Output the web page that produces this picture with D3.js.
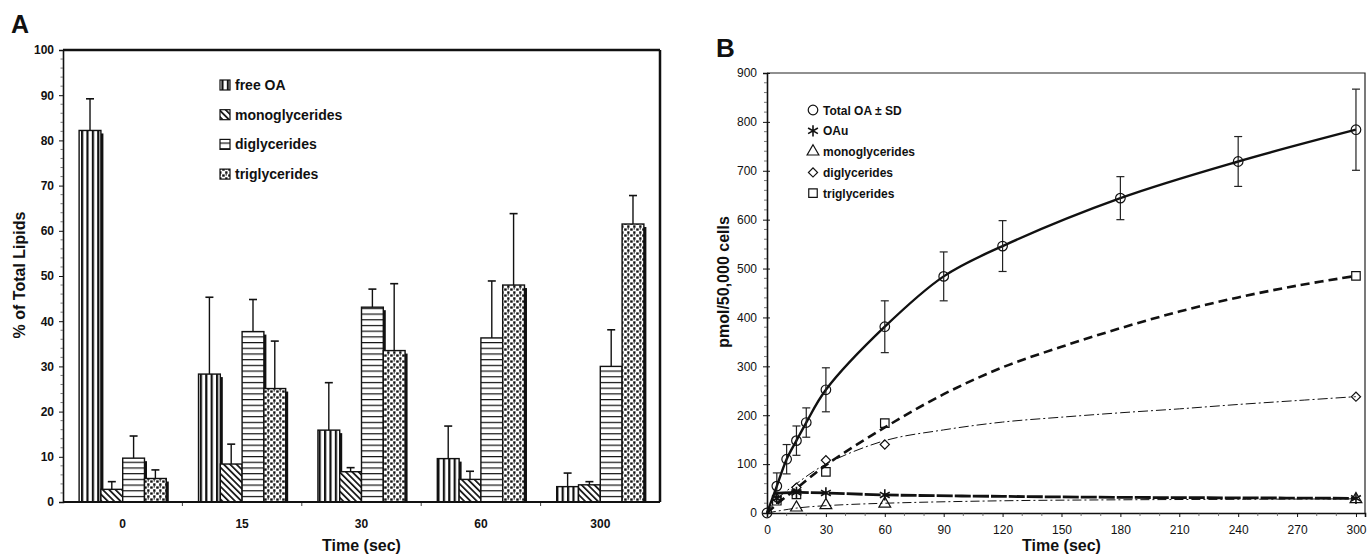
<!DOCTYPE html>
<html><head><meta charset="utf-8">
<script src="https://cdn.jsdelivr.net/npm/d3@7"></script>
<style>
body{margin:0;background:#fff}
svg{display:block}
text{font-family:"Liberation Sans",Arial,sans-serif;fill:#111}
</style>
</head><body>
<svg id="c" width="1367" height="558"></svg>
<script>
// ---------- Panel A data ----------
const timesA = ["0", "15", "30", "60", "300"];
const seriesA = ["free OA", "monoglycerides", "diglycerides", "triglycerides"];
const freeOA = [82.2, 28.3, 15.9, 9.6, 3.4];
const freeOASD = [7.0, 17.0, 10.5, 7.2, 3.0];
const monoA = [2.8, 8.4, 6.7, 5.0, 3.8];
const monoASD = [1.7, 4.4, 0.9, 1.8, 0.7];
const diA = [9.7, 37.7, 43.1, 36.3, 30.0];
const diASD = [4.9, 7.1, 4.0, 12.6, 8.1];
const triA = [5.2, 25.1, 33.5, 48.0, 61.5];
const triASD = [1.9, 10.5, 14.8, 15.8, 6.3];
const yTicksA = [0, 10, 20, 30, 40, 50, 60, 70, 80, 90, 100];

// ---------- Panel B data ----------
const totalT = [0, 5, 10, 15, 20, 30, 60, 90, 120, 180, 240, 300];
const totalV = [0, 55, 110, 148, 185, 252, 381, 484, 546, 644, 719, 784];
const totalSD = [0, 27, 30, 30, 30, 45, 53, 50, 52, 44, 51, 83];
const oauT = [5, 15, 30, 60, 300];
const oauV = [30, 42, 41, 37, 30];
const oauFitT = [4, 15, 30, 60, 120, 180, 240, 300];
const oauFitV = [40, 42, 41, 37, 34, 32, 31, 30];
const monoT = [15, 30, 60, 300];
const monoV = [11, 16, 19, 28];
const monoFitT = [0, 15, 30, 60, 120, 180, 240, 300];
const monoFitV = [0, 10, 15, 20, 25, 27, 28, 29];
const diT = [5, 15, 30, 60, 300];
const diV = [30, 52, 108, 140, 238];
const diFitT = [0, 5, 15, 30, 60, 90, 120, 150, 180, 210, 240, 270, 300];
const diFitV = [0, 28, 60, 100, 148, 170, 186, 196, 205, 213, 222, 230, 238];
const triT = [5, 15, 30, 60, 300];
const triV = [25, 38, 84, 184, 485];
const triFitT = [0, 5, 15, 30, 60, 90, 120, 150, 180, 210, 240, 270, 300];
const triFitV = [0, 18, 50, 98, 175, 243, 298, 340, 378, 412, 441, 465, 485];
const xTicksB = [0, 30, 60, 90, 120, 150, 180, 210, 240, 270, 300];
const yTicksB = [0, 100, 200, 300, 400, 500, 600, 700, 800, 900];
const legendB = ["Total OA \u00b1 SD", "OAu", "monoglycerides", "diglycerides", "triglycerides"];

const svg = d3.select("#c");
const defs = svg.append("defs");

// patterns
const pV = defs.append("pattern").attr("id", "pV").attr("patternUnits", "userSpaceOnUse")
  .attr("width", 5.4).attr("height", 10);
pV.append("rect").attr("width", 5.4).attr("height", 10).attr("fill", "#fff");
pV.append("rect").attr("x", 0).attr("width", 2.2).attr("height", 10).attr("fill", "#111");

const pD = defs.append("pattern").attr("id", "pD").attr("patternUnits", "userSpaceOnUse")
  .attr("width", 4.5).attr("height", 4.5).attr("patternTransform", "rotate(-45)");
pD.append("rect").attr("width", 4.5).attr("height", 4.5).attr("fill", "#fff");
pD.append("rect").attr("x", 0).attr("width", 1.7).attr("height", 4.5).attr("fill", "#111");

const pH = defs.append("pattern").attr("id", "pH").attr("patternUnits", "userSpaceOnUse")
  .attr("width", 10).attr("height", 5.7);
pH.append("rect").attr("width", 10).attr("height", 5.7).attr("fill", "#fff");
pH.append("rect").attr("y", 0).attr("width", 10).attr("height", 1.2).attr("fill", "#111");

const pT = defs.append("pattern").attr("id", "pT").attr("patternUnits", "userSpaceOnUse")
  .attr("width", 6).attr("height", 6);
pT.append("rect").attr("width", 6).attr("height", 6).attr("fill", "#fff");
pT.append("rect").attr("x", 0.2).attr("y", 0.4).attr("width", 2.5).attr("height", 2.3).attr("fill", "#111");
pT.append("rect").attr("x", 3.2).attr("y", 3.3).attr("width", 2.3).attr("height", 2.5).attr("fill", "#111");
pT.append("rect").attr("x", 3.6).attr("y", 0.2).attr("width", 1.3).attr("height", 1.3).attr("fill", "#222");

const fills = ["url(#pV)", "url(#pD)", "url(#pH)", "url(#pT)"];

// ================= Panel A =================
const A = {l: 63, r: 660, t: 50, b: 502};
const yA = d3.scaleLinear().domain([0, 100]).range([A.b, A.t]);
const xA = d3.scaleBand().domain(timesA).range([A.l, A.r]).paddingInner(0.27).paddingOuter(0.135);
const xAs = d3.scaleBand().domain(seriesA).range([0, xA.bandwidth()]);
const valsA = [freeOA, monoA, diA, triA];
const sdA = [freeOASD, monoASD, diASD, triASD];

svg.append("text").attr("x", 11).attr("y", 33).attr("font-size", 25).attr("font-weight", "bold").text("A");

const gA = svg.append("g");
gA.append("line").attr("x1", A.l).attr("x2", A.r).attr("y1", A.t).attr("y2", A.t).attr("stroke", "#111").attr("stroke-width", 2.5);
gA.append("line").attr("x1", A.r).attr("x2", A.r).attr("y1", A.t).attr("y2", A.b).attr("stroke", "#111").attr("stroke-width", 2.5);

const axA = d3.axisLeft(yA).tickValues(yTicksA).tickSize(4).tickPadding(5);
const gyA = svg.append("g").attr("transform", `translate(${A.l},0)`).call(axA);
gyA.select(".domain").attr("stroke", "#111").attr("stroke-width", 1.6);
gyA.selectAll("text").attr("font-size", 12).attr("font-weight", "bold").attr("font-family", "Liberation Sans, Arial, sans-serif").attr("fill", "#111");
gyA.selectAll(".tick line").attr("stroke", "#111");
svg.append("g").selectAll("line").data(d3.range(0, 101, 2).filter(v => v % 10 !== 0)).join("line")
  .attr("x1", A.l - 2.5).attr("x2", A.l).attr("y1", d => yA(d)).attr("y2", d => yA(d))
  .attr("stroke", "#555").attr("stroke-width", 0.8);

svg.append("line").attr("x1", A.l).attr("x2", A.r).attr("y1", A.b).attr("y2", A.b).attr("stroke", "#111").attr("stroke-width", 2);
const step = xA.step();
svg.append("g").selectAll("line").data(timesA.slice(1)).join("line")
  .attr("x1", d => xA(d) - (step - xA.bandwidth()) / 2).attr("x2", d => xA(d) - (step - xA.bandwidth()) / 2)
  .attr("y1", A.b).attr("y2", A.b + 4).attr("stroke", "#444").attr("stroke-width", 1);
svg.append("g").selectAll("text").data(timesA).join("text")
  .attr("x", d => xA(d) + xA.bandwidth() / 2).attr("y", 528).attr("text-anchor", "middle")
  .attr("font-size", 12).attr("font-weight", "bold").text(d => d);

seriesA.forEach((s, si) => {
  const g = svg.append("g");
  const data = timesA.map((t, i) => ({t, v: valsA[si][i], sd: sdA[si][i]}));
  g.selectAll("rect.sh").data(data).join("rect").attr("class", "sh")
    .attr("x", d => xA(d.t) + xAs(s) + 2.5).attr("y", d => yA(d.v) + 3)
    .attr("width", xAs.bandwidth()).attr("height", d => A.b - yA(d.v) - 3).attr("fill", "#111");
  g.selectAll("rect.bar").data(data).join("rect").attr("class", "bar")
    .attr("x", d => xA(d.t) + xAs(s)).attr("y", d => yA(d.v))
    .attr("width", xAs.bandwidth()).attr("height", d => A.b - yA(d.v))
    .attr("fill", fills[si]).attr("stroke", "#111").attr("stroke-width", 1.4);
  g.selectAll("line.e").data(data).join("line").attr("class", "e")
    .attr("x1", d => xA(d.t) + xAs(s) + xAs.bandwidth() / 2).attr("x2", d => xA(d.t) + xAs(s) + xAs.bandwidth() / 2)
    .attr("y1", d => yA(d.v)).attr("y2", d => yA(d.v + d.sd)).attr("stroke", "#111").attr("stroke-width", 1.4);
  g.selectAll("line.c").data(data).join("line").attr("class", "c")
    .attr("x1", d => xA(d.t) + xAs(s) + xAs.bandwidth() / 2 - 4).attr("x2", d => xA(d.t) + xAs(s) + xAs.bandwidth() / 2 + 4)
    .attr("y1", d => yA(d.v + d.sd)).attr("y2", d => yA(d.v + d.sd)).attr("stroke", "#111").attr("stroke-width", 1.6);
});
svg.append("line").attr("x1", A.l).attr("x2", A.r).attr("y1", A.b).attr("y2", A.b).attr("stroke", "#111").attr("stroke-width", 2);

const lgA = svg.append("g");
seriesA.forEach((s, i) => {
  const y = 85 + i * 29.7;
  lgA.append("rect").attr("x", 220).attr("y", y - 5).attr("width", 10).attr("height", 10)
    .attr("fill", fills[i]).attr("stroke", "#111").attr("stroke-width", 1.2);
  lgA.append("text").attr("x", 235).attr("y", y + 5).attr("font-size", 14).attr("font-weight", "bold").text(s);
});

svg.append("text").attr("transform", "translate(25,275) rotate(-90)").attr("text-anchor", "middle")
  .attr("font-size", 16).attr("font-weight", "bold").text("% of Total Lipids");
svg.append("text").attr("x", (A.l + A.r) / 2).attr("y", 551).attr("text-anchor", "middle")
  .attr("font-size", 16).attr("font-weight", "bold").text("Time (sec)");

// ================= Panel B =================
const B = {l: 767, r: 1365, t: 73, b: 513};
const xB = d3.scaleLinear().domain([0, 304.6]).range([B.l, B.r]);
const yB = d3.scaleLinear().domain([0, 900]).range([B.b, B.t]);

svg.append("text").attr("x", 716).attr("y", 57).attr("font-size", 26).attr("font-weight", "bold").text("B");

svg.append("path").attr("d", `M${B.l},${B.t}H${B.r}V${B.b}`).attr("fill", "none").attr("stroke", "#222").attr("stroke-width", 1.2);

const gyB = svg.append("g").attr("transform", `translate(${B.l},0)`)
  .call(d3.axisLeft(yB).tickValues(yTicksB).tickSize(4).tickPadding(6));
gyB.select(".domain").attr("stroke", "#111").attr("stroke-width", 1.6);
gyB.selectAll(".tick line").attr("x2", -4).attr("x1", 3).attr("stroke", "#111");
gyB.selectAll("text").attr("font-size", 12).attr("font-family", "Liberation Sans, Arial, sans-serif").attr("fill", "#222");
svg.append("g").selectAll("line").data(d3.range(20, 900, 20).filter(v => v % 100 !== 0)).join("line")
  .attr("x1", B.l - 3).attr("x2", B.l).attr("y1", d => yB(d)).attr("y2", d => yB(d))
  .attr("stroke", "#555").attr("stroke-width", 0.8);

const gxB = svg.append("g").attr("transform", `translate(0,${B.b})`)
  .call(d3.axisBottom(xB).tickValues(xTicksB).tickSize(4).tickPadding(8));
gxB.select(".domain").attr("stroke", "#111").attr("stroke-width", 1.6);
gxB.selectAll(".tick line").attr("stroke", "#111");
gxB.selectAll("text").attr("font-size", 12).attr("font-family", "Liberation Sans, Arial, sans-serif").attr("fill", "#222");
svg.append("g").selectAll("line").data(d3.range(10, 300, 10).filter(v => v % 30 !== 0)).join("line")
  .attr("x1", d => xB(d)).attr("x2", d => xB(d)).attr("y1", B.b).attr("y2", B.b + 3)
  .attr("stroke", "#555").attr("stroke-width", 0.8);

const lineB = (ts, vs) => d3.line().curve(d3.curveCatmullRom.alpha(0.5)).x(d => xB(d[0])).y(d => yB(d[1]))(ts.map((t, i) => [t, vs[i]]));

svg.append("path").attr("d", lineB(monoFitT, monoFitV)).attr("fill", "none").attr("stroke", "#111")
  .attr("stroke-width", 1).attr("stroke-dasharray", "9,3,2,3");
svg.append("path").attr("d", lineB(diFitT, diFitV)).attr("fill", "none").attr("stroke", "#111")
  .attr("stroke-width", 1).attr("stroke-dasharray", "10,3,2,3");
svg.append("path").attr("d", lineB(triFitT, triFitV)).attr("fill", "none").attr("stroke", "#111")
  .attr("stroke-width", 2.6).attr("stroke-dasharray", "9,5");
svg.append("path").attr("d", lineB(oauFitT, oauFitV)).attr("fill", "none").attr("stroke", "#111")
  .attr("stroke-width", 2.8).attr("stroke-dasharray", "16,2");
svg.append("path").attr("d", lineB(totalT, totalV)).attr("fill", "none").attr("stroke", "#111")
  .attr("stroke-width", 2.4);

const eb = svg.append("g").attr("stroke", "#222").attr("stroke-width", 1.2);
totalT.forEach((t, i) => {
  if (totalSD[i] <= 0) return;
  const x = xB(t);
  eb.append("line").attr("x1", x).attr("x2", x).attr("y1", yB(totalV[i] - totalSD[i])).attr("y2", yB(totalV[i] + totalSD[i]));
  eb.append("line").attr("x1", x - 4).attr("x2", x + 4).attr("y1", yB(totalV[i] - totalSD[i])).attr("y2", yB(totalV[i] - totalSD[i]));
  eb.append("line").attr("x1", x - 4).attr("x2", x + 4).attr("y1", yB(totalV[i] + totalSD[i])).attr("y2", yB(totalV[i] + totalSD[i]));
});

const syms = [
  {s: d3.symbol(d3.symbolCircle, 72), rot: 0},
  {s: d3.symbol(d3.symbolAsterisk, 90), rot: 0},
  {s: d3.symbol(d3.symbolTriangle, 60), rot: 0},
  {s: d3.symbol(d3.symbolSquare, 42), rot: 45},
  {s: d3.symbol(d3.symbolSquare, 72), rot: 0}
];
const markerSets = [[totalT, totalV, 0], [oauT, oauV, 1], [monoT, monoV, 2], [diT, diV, 3], [triT, triV, 4]];
markerSets.forEach(([ts, vs, k]) => {
  svg.append("g").selectAll("path").data(ts.map((t, i) => [t, vs[i]])).join("path")
    .attr("transform", d => `translate(${xB(d[0])},${yB(d[1])}) rotate(${syms[k].rot})`)
    .attr("d", syms[k].s()).attr("fill", "none").attr("stroke", "#111").attr("stroke-width", k === 1 ? 1.6 : 1.2);
});

const lgB = svg.append("g");
legendB.forEach((s, i) => {
  const y = 110 + i * 20.8;
  lgB.append("path").attr("transform", `translate(813,${y}) rotate(${syms[i].rot})`).attr("d", syms[i].s())
    .attr("fill", "none").attr("stroke", "#111").attr("stroke-width", i === 1 ? 1.6 : 1.2);
  lgB.append("text").attr("x", 823).attr("y", y + 4.5).attr("font-size", 12).attr("font-weight", "bold").text(s);
});

svg.append("text").attr("transform", "translate(729,282) rotate(-90)").attr("text-anchor", "middle")
  .attr("font-size", 16).attr("font-weight", "bold").text("pmol/50,000 cells");
svg.append("text").attr("x", (B.l + xB(300)) / 2).attr("y", 551).attr("text-anchor", "middle")
  .attr("font-size", 16).attr("font-weight", "bold").text("Time (sec)");
</script>
</body></html>
